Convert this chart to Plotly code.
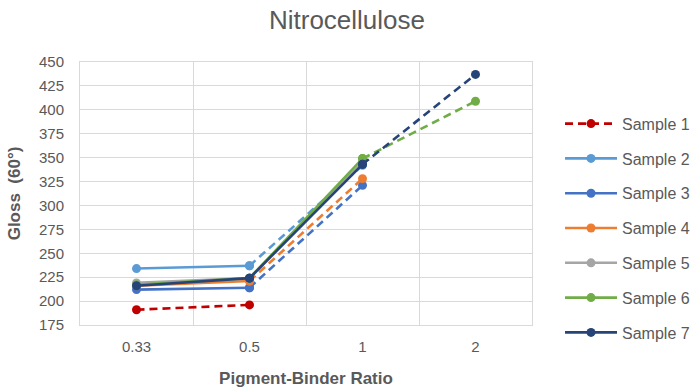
import plotly.graph_objects as go

# ---- data ----
ratios = ["0.33", "0.5", "1", "2"]
sample_names = ["Sample 1", "Sample 2", "Sample 3", "Sample 4", "Sample 5", "Sample 6", "Sample 7"]
sample1 = [191, 196, None, None]
sample2 = [234, 237, 342, None]
sample3 = [212, 214, 321, None]
sample4 = [216, 221, 328, None]
sample5 = [219, 224, 345, None]
sample6 = [217, 224, 349, 409]
sample7 = [216, 224, 343, 437]
series = [sample1, sample2, sample3, sample4, sample5, sample6, sample7]

# ---- styles ----
colors = ["#C00000", "#5B9BD5", "#4472C4", "#ED7D31", "#A5A5A5", "#70AD47", "#264478"]
DASH = "8px,5px"
seg_dash = [
    [DASH, DASH, DASH],
    ["solid", DASH, DASH],
    ["solid", DASH, DASH],
    ["solid", DASH, DASH],
    ["solid", "solid", DASH],
    ["solid", "solid", DASH],
    ["solid", "solid", DASH],
]

fig = go.Figure()
for k, (name, vals) in enumerate(zip(sample_names, series)):
    first = True
    for i in range(len(ratios) - 1):
        if vals[i] is None or vals[i + 1] is None:
            continue
        fig.add_trace(go.Scatter(
            x=ratios[i:i + 2], y=vals[i:i + 2], name=name,
            mode="lines+markers",
            line=dict(color=colors[k], width=2.6, dash=seg_dash[k][i]),
            marker=dict(color=colors[k], size=9),
            legendgroup=name, showlegend=first,
        ))
        first = False

font_family = "Liberation Sans, Arial, sans-serif"
fig.update_layout(
    width=694, height=388,
    margin=dict(l=80, r=162, t=62, b=63, autoexpand=False),
    paper_bgcolor="white", plot_bgcolor="white",
    font=dict(family=font_family, color="#595959", size=15),
    title=dict(text="Nitrocellulose", x=0.5, xanchor="center", y=0.948, yanchor="middle",
               font=dict(size=26, color="#595959")),
    legend=dict(x=1.062, xanchor="left", y=0.83, yanchor="top",
                traceorder="grouped", tracegroupgap=11, itemwidth=52,
                borderwidth=0, bgcolor="rgba(0,0,0,0)",
                font=dict(size=16, color="#595959")),
    xaxis=dict(type="category", categoryorder="array", categoryarray=ratios,
               range=[-0.5, 3.5], automargin=False,
               tickson="boundaries", showgrid=True, gridcolor="#D9D9D9", gridwidth=1,
               showline=True, linecolor="#D9D9D9", mirror=True, ticks="",
               tickfont=dict(size=15), ticklabelstandoff=8,
               title=dict(text="<b>Pigment-Binder Ratio</b>", font=dict(size=17, color="#595959"), standoff=20)),
    yaxis=dict(range=[175, 450], dtick=25, tick0=175, showgrid=True, gridcolor="#D9D9D9", gridwidth=1,
               showline=True, linecolor="#D9D9D9", mirror=True, ticks="", zeroline=False,
               automargin=False,
               tickfont=dict(size=15), ticklabelstandoff=12,
               title=dict(text="<b>Gloss  (60°)</b>", font=dict(size=17, color="#595959"), standoff=14)),
)

fig.write_html("out.html")
